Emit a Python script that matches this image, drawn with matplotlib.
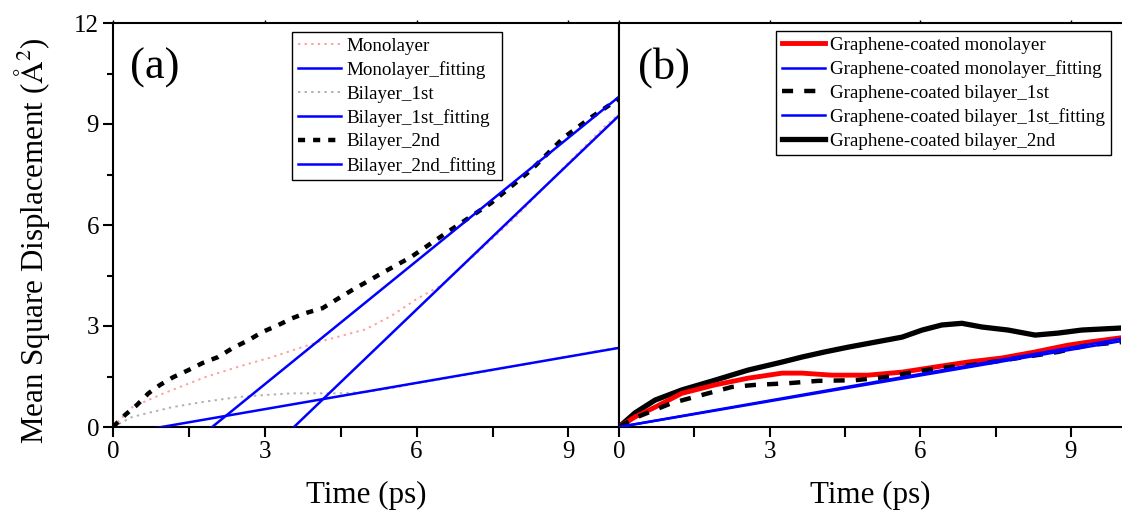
import matplotlib
matplotlib.use("Agg")
import matplotlib.pyplot as plt
import numpy as np
from matplotlib.ticker import MultipleLocator

plt.rcParams['font.family'] = ['Liberation Serif', 'DejaVu Serif']
plt.rcParams['mathtext.fontset'] = 'stix'

# ---- (a) uncoated layers ----
t_mono = [0, 0.38, 1.0, 1.82, 2.5, 3.15, 4.0, 4.99, 5.5, 6.0, 6.48, 7.0, 7.47, 8.0, 8.51, 9.0, 9.7, 10.0]
msd_mono = [0, 0.59, 1.0, 1.48, 1.8, 2.08, 2.5, 2.9, 3.3, 3.8, 4.2, 4.9, 5.55, 6.3, 7.1, 7.85, 8.9, 9.3]

t_bi1 = [0, 0.38, 1.17, 1.8, 2.48, 3.0, 3.54, 4.46, 5.0, 5.5, 6.0, 7.0, 8.0, 9.0, 10.0]
msd_bi1 = [0, 0.3, 0.59, 0.75, 0.89, 0.95, 1.0, 1.0, 1.04, 1.15, 1.3, 1.55, 1.82, 2.1, 2.37]

t_bi2 = [0, 0.24, 0.47, 0.7, 0.93, 1.19, 1.49, 1.77, 2.08, 2.36, 2.68, 2.95, 3.27, 3.54,
         3.8, 4.14, 4.4, 4.73, 5.0, 5.35, 5.88, 6.67, 7.47, 8.26, 8.91, 9.45, 10.0]
msd_bi2 = [0, 0.36, 0.65, 1.0, 1.25, 1.48, 1.69, 1.9, 2.08, 2.34, 2.58, 2.82, 3.03, 3.23,
           3.38, 3.53, 3.77, 4.07, 4.3, 4.6, 5.04, 5.85, 6.65, 7.63, 8.6, 9.2, 9.75]

# linear fits: (slope, intercept)
fit_mono = (1.44, -5.15)
fit_bi1 = (0.26, -0.25)
fit_bi2 = (1.22, -2.39)

# ---- (b) graphene-coated layers ----
t_gmono = [0, 0.32, 0.72, 1.25, 1.91, 2.57, 3.25, 3.65, 4.24, 4.96, 5.64, 6.29, 6.95, 7.63, 8.29, 8.94, 9.34, 10.0]
msd_gmono = [0, 0.3, 0.59, 1.0, 1.25, 1.45, 1.6, 1.6, 1.54, 1.54, 1.63, 1.78, 1.93, 2.05, 2.23, 2.43, 2.52, 2.65]

t_gbi1 = [0, 0.32, 1.05, 1.65, 2.25, 2.71, 3.37, 3.96, 4.7, 5.3, 5.76, 6.35, 7.03, 7.69, 8.35, 8.75, 9.34, 10.0]
msd_gbi1 = [0, 0.27, 0.71, 0.95, 1.19, 1.25, 1.3, 1.37, 1.39, 1.48, 1.6, 1.75, 1.84, 1.99, 2.14, 2.23, 2.43, 2.52]

t_gbi2 = [0, 0.32, 0.72, 1.25, 1.91, 2.57, 3.25, 3.65, 4.1, 4.56, 5.1, 5.64, 6.04, 6.43, 6.83, 7.23, 7.75, 8.29, 8.75, 9.22, 10.0]
msd_gbi2 = [0, 0.42, 0.8, 1.1, 1.39, 1.69, 1.93, 2.08, 2.23, 2.37, 2.52, 2.67, 2.88, 3.03, 3.08, 2.97, 2.88, 2.73, 2.79, 2.88, 2.94]

fit_gmono = (0.262, 0.0)
fit_gbi1 = (0.255, 0.0)

x_ticks = [0, 3, 6, 9]
y_ticks = [0, 3, 6, 9, 12]

W, H = 1122, 514
fig = plt.figure(figsize=(W / 100, H / 100), dpi=100)
ax_a = fig.add_axes([113 / W, 1 - 427 / H, (619 - 113) / W, (427 - 23) / H])
ax_b = fig.add_axes([619 / W, 1 - 427 / H, (1121 - 619) / W, (427 - 23) / H])

tfit = np.array([0.0, 10.0])
BLUE = '#0000ff'


def fit_line(p):
    return p[0] * tfit + p[1]


# panel (a)
ax_a.plot(t_mono, msd_mono, color='#ffa0a0', lw=1.4, ls=(0, (1.2, 2.2)), label='Monolayer', zorder=2)
ax_a.plot(tfit, fit_line(fit_mono), color=BLUE, lw=1.8, label='Monolayer_fitting', zorder=5)
ax_a.plot(t_bi1, msd_bi1, color='#b0b0b0', lw=1.4, ls=(0, (1.2, 2.2)), label='Bilayer_1st', zorder=2)
ax_a.plot(tfit, fit_line(fit_bi1), color=BLUE, lw=1.8, label='Bilayer_1st_fitting', zorder=5)
ax_a.plot(t_bi2, msd_bi2, color='black', lw=3.2, ls=(0, (1.6, 1.8)), label='Bilayer_2nd', zorder=3)
ax_a.plot(tfit, fit_line(fit_bi2), color=BLUE, lw=1.8, label='Bilayer_2nd_fitting', zorder=5)

# panel (b)
ax_b.plot(t_gmono, msd_gmono, color='#ff0000', lw=3.5, label='Graphene-coated monolayer', zorder=3)
ax_b.plot(tfit, fit_line(fit_gmono), color=BLUE, lw=1.8, label='Graphene-coated monolayer_fitting', zorder=5)
ax_b.plot(t_gbi1, msd_gbi1, color='black', lw=3.2, ls=(0, (2.5, 2.5)), label='Graphene-coated bilayer_1st', zorder=4)
ax_b.plot(tfit, fit_line(fit_gbi1), color=BLUE, lw=1.8, label='Graphene-coated bilayer_1st_fitting', zorder=5)
ax_b.plot(t_gbi2, msd_gbi2, color='black', lw=3.8, label='Graphene-coated bilayer_2nd', zorder=2)

for ax in (ax_a, ax_b):
    ax.set_xlim(0, 10)
    ax.set_ylim(0, 12)
    ax.set_xticks(x_ticks)
    ax.xaxis.set_minor_locator(MultipleLocator(1.5))
    ax.tick_params(axis='x', which='both', direction='out', length=7, width=1.5,
                   labelsize=18, pad=3)
    for s in ax.spines.values():
        s.set_linewidth(1.5)
    ax.set_xlabel('Time (ps)', fontsize=22.3, labelpad=13)
    top = ax.secondary_xaxis('top')
    top.set_xticks(x_ticks)
    top.tick_params(direction='out', length=2.5, width=1.0, labeltop=False)
    top.spines['top'].set_visible(False)

ax_a.set_yticks(y_ticks)
ax_a.yaxis.set_minor_locator(MultipleLocator(1.5))
ax_a.tick_params(axis='y', which='major', direction='out', length=7, width=1.5, labelsize=18, pad=3)
ax_a.tick_params(axis='y', which='minor', direction='out', length=4, width=1.5)
ax_a.set_ylabel('Mean Square Displacement ($\\mathrm{\\AA^2}$)', fontsize=22.3)
ax_a.yaxis.set_label_coords(-0.120, 0.46)

ax_b.tick_params(axis='y', which='both', left=False, labelleft=False)
ax_b.spines['right'].set_visible(False)

ax_a.text(0.033, 0.89, '(a)', transform=ax_a.transAxes, fontsize=32, va='center', ha='left')
ax_b.text(0.037, 0.89, '(b)', transform=ax_b.transAxes, fontsize=32, va='center', ha='left')

leg_kw = dict(fontsize=13.7, frameon=True, fancybox=False, framealpha=1, edgecolor='black',
              borderpad=0.3, labelspacing=0.33, handlelength=2.25, handletextpad=0.3,
              borderaxespad=0)
la = ax_a.legend(loc='upper left', bbox_to_anchor=(0.354, 0.978), **leg_kw)
la.get_frame().set_linewidth(1.0)
lb = ax_b.legend(loc='upper left', bbox_to_anchor=(0.313, 0.980), **leg_kw)
lb.get_frame().set_linewidth(1.0)

fig.savefig('out.png', dpi=100)
